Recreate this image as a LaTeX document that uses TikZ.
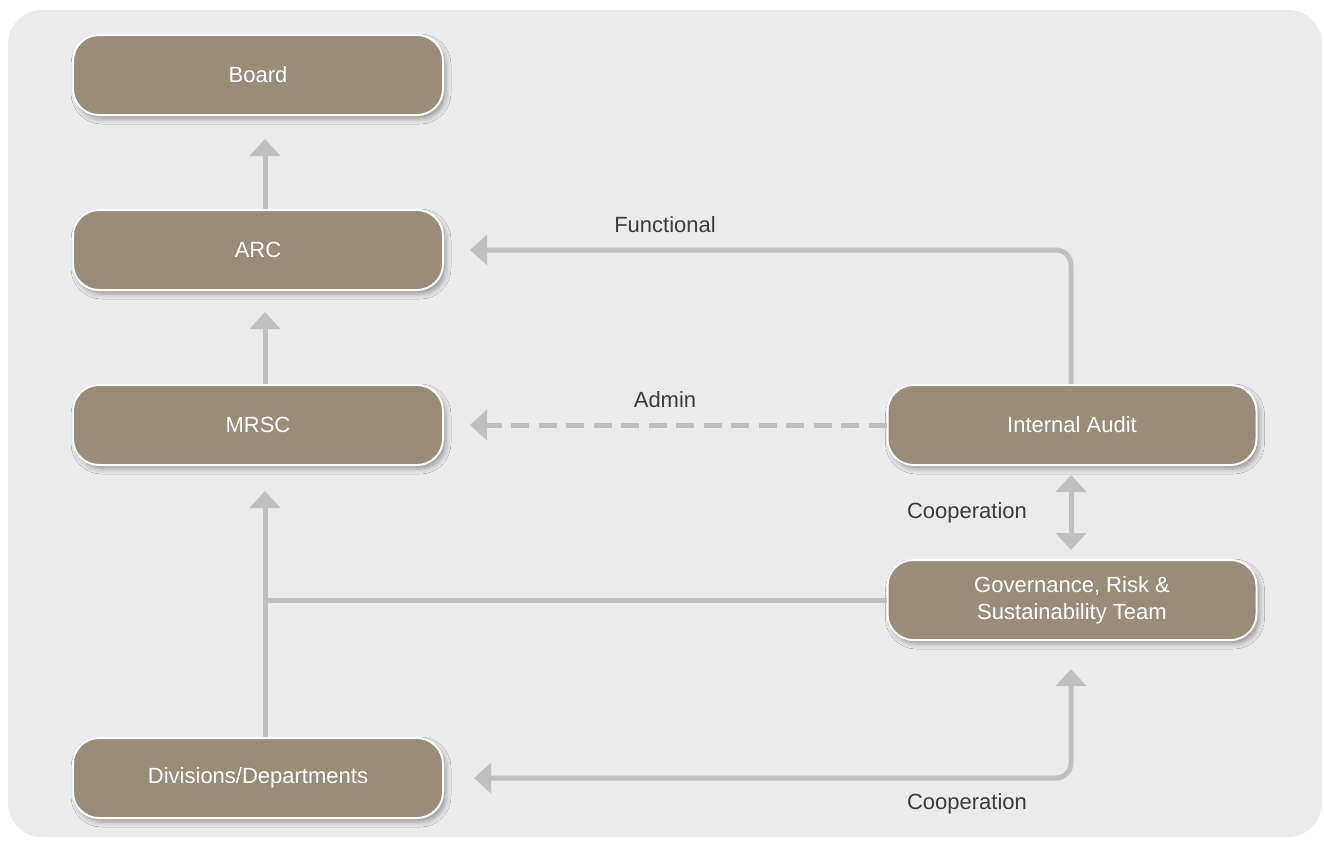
\documentclass[tikz,border=0pt]{standalone}
\usepackage{fontspec}
\setmainfont{Liberation Sans}
\usetikzlibrary{arrows.meta,shadows.blur}
\definecolor{boxfill}{RGB}{153,140,120}
\definecolor{linegray}{RGB}{190,191,193}
\definecolor{bggray}{RGB}{235,235,235}
\definecolor{labeltext}{RGB}{60,60,60}
\tikzset{
  orgbox/.style={rectangle, rounded corners=26pt, fill=boxfill, draw=white, line width=2pt,
    minimum width=370pt, minimum height=80pt, text=white, align=center,
    font=\fontsize{22pt}{27pt}\selectfont,
    blur shadow={shadow xshift=3pt, shadow yshift=-4pt, shadow blur radius=5pt, shadow opacity=35}},
  conn/.style={draw=linegray, line width=5pt},
  arr/.style={conn, -{Triangle[length=17pt,width=30pt]}},
  darr/.style={conn, {Triangle[length=17pt,width=30pt]}-{Triangle[length=17pt,width=30pt]}},
  lbl/.style={text=labeltext, font=\fontsize{22pt}{27pt}\selectfont},
  admindash/.style={dash pattern=on 18pt off 9.5pt}
}
\begin{document}
\begin{tikzpicture}[x=1pt,y=-1pt]
\useasboundingbox (0,0) rectangle (1324,841);
\fill[bggray, rounded corners=34pt] (8,10) rectangle (1322,837);
\coordinate (colL) at (265,0);
\coordinate (colR) at (1071,0);
\node[orgbox] (board) at (258,75) {Board};
\node[orgbox] (arc) at (258,250) {ARC};
\node[orgbox] (mrsc) at (258,425) {MRSC};
\node[orgbox] (div) at (258,778) {Divisions/Departments};
\node[orgbox, minimum width=369pt] (ia) at (1072,425) {Internal Audit};
\node[orgbox, minimum width=369pt] (grs) at (1072,600) {Governance, Risk \&\\Sustainability Team};
% connectors
\draw[arr, shorten >=23pt] (arc.north -| colL) -- (board.south -| colL);
\draw[arr, shorten >=21pt] (mrsc.north -| colL) -- (arc.south -| colL);
\draw[arr, shorten >=25pt] (div.north -| colL) -- (mrsc.south -| colL);
\draw[conn] (grs.west) -- (grs.west -| colL);
\draw[arr, rounded corners=15pt, shorten >=26pt] (ia.north -| colR) |- (arc.east);
\draw[arr, admindash, shorten >=26pt] (ia.west) -- (mrsc.east);
\draw[darr, shorten <=9pt, shorten >=9pt] (ia.south -| colR) -- (grs.north -| colR);
\draw[darr, rounded corners=15pt, shorten <=30pt, shorten >=28pt] (div.east) -| (grs.south -| colR);
% labels
\node[lbl] (lfun) at (665,225) {Functional};
\node[lbl] (ladm) at (665,400) {Admin};
\node[lbl] (lcoop1) at (967,513) {Cooperation};
\node[lbl] (lcoop2) at (967,804) {Cooperation};
\end{tikzpicture}
\end{document}
